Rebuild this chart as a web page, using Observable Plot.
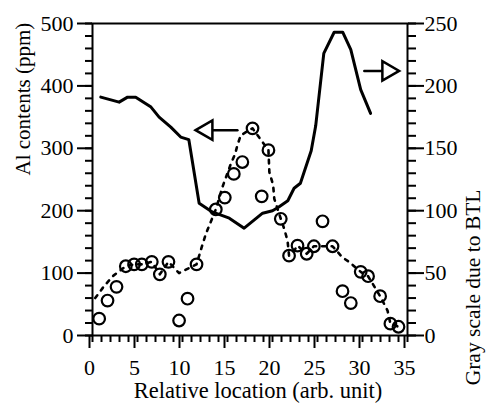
<!DOCTYPE html>
<html>
<head>
<meta charset="utf-8">
<script src="https://cdn.jsdelivr.net/npm/d3@7"></script>
<script src="https://cdn.jsdelivr.net/npm/@observablehq/plot@0.6"></script>
<style>
  html, body { margin: 0; padding: 0; background: #fff; }
</style>
</head>
<body>
<script>
// Al contents (ppm) — open circles
const circleX  = [0.74, 1.67, 2.67, 3.7, 4.62, 5.48, 6.59, 7.48, 8.44, 9.62, 10.56, 11.56, 13.7, 14.7, 15.7, 16.65, 17.78, 18.8, 19.55, 20.92, 21.84, 22.78, 23.8, 24.6, 25.56, 26.67, 27.78, 28.7, 29.8, 30.62, 31.96, 33.1, 34.0];
const circleAl = [27, 56, 78, 111, 114, 114, 118, 98, 118, 24, 59, 114, 202, 221, 259, 278, 332, 223, 297, 187, 128, 144, 131, 143, 183, 143, 71, 52, 102, 95, 63, 19, 14];

// Dotted trend line through Al contents (ppm)
const trendX  = [0.3, 1.33, 2.33, 3.7, 4.62, 5.48, 6.59, 7.48, 8.44, 9.62, 11.56, 12.1, 12.6, 13.7, 14.44, 15.37, 15.85, 16.1, 16.48, 17.78, 19.55, 19.65, 20.07, 20.2, 20.92, 21.3, 21.67, 21.84, 22.4, 22.78, 23.8, 24.6, 26.67, 27.78, 28.5, 29.8, 30.62, 31.96, 32.78, 33.1, 34.0];
const trendAl = [60, 80, 96, 111, 114, 114, 118, 98, 118, 100, 114, 140, 163, 202, 238, 275, 291, 305, 321, 332, 297, 262, 241, 219, 187, 171, 152, 128, 136, 144, 131, 143, 143, 125, 118, 102, 95, 63, 40, 19, 14];

// Gray scale due to BTL — solid line (right axis, 0–250)
const grayX = [0.92, 2.96, 3.9, 4.8, 6.5, 7.4, 8.7, 9.8, 10.7, 11.85, 13.3, 15.2, 16.85, 18.9, 20.0, 20.7, 21.7, 22.4, 23.1, 24.3, 24.8, 25.7, 26.85, 27.8, 28.7, 29.8, 30.9];
const grayV = [191, 187, 191, 191, 183, 175, 167, 159, 157, 106, 99, 94, 86, 98, 100, 103, 108, 118, 122, 148, 168, 226, 243, 243, 229, 197, 178];

// Axis ticks
const xMajor = [0, 5, 10, 15, 20, 25, 30, 35];
const xMinor = d3.range(0, 36, 1);
const yLeftMajor = [0, 100, 200, 300, 400, 500];
const yLeftMinor = d3.range(0, 501, 20);
const yRightMajor = [0, 50, 100, 150, 200, 250];
const yRightMinor = d3.range(0, 251, 10);

// Annotation arrows
const leftArrowShaftX = [13.3, 16.1];
const leftArrowHeadX = [12.7];
const leftArrowAl = 329;
const rightArrowShaftX = [30.2, 32.2];
const rightArrowHeadX = [32.83];
const rightArrowGray = 212;

const xLabel = "Relative location (arb. unit)";
const yLeftLabel = "Al contents (ppm)";
const yRightLabel = "Gray scale due to BTL";

// Build tables
const circles = circleX.map((x, i) => ({x, y: circleAl[i]}));
const trend = trendX.map((x, i) => ({x, y: trendAl[i]}));
const gray = grayX.map((x, i) => ({x, g: grayV[i]}));
const g2y = g => g * 2; // right axis (0–250) mapped onto left scale (0–500)

const font = "'Liberation Serif', 'Times New Roman', serif";

const chart = Plot.plot({
  width: 486,
  height: 405,
  marginLeft: 92,
  marginRight: 79,
  marginTop: 23,
  marginBottom: 70,
  x: {domain: [0, 35]},
  y: {domain: [0, 500]},
  style: {fontFamily: font, fontSize: "22px", color: "black", background: "white", overflow: "visible"},
  marks: [
    // minor ticks
    Plot.axisX({ticks: xMinor, tickSize: 7, tickFormat: () => "", strokeWidth: 2, label: null}),
    Plot.axisY({ticks: yLeftMinor, tickSize: 7, tickFormat: () => "", strokeWidth: 2, label: null}),
    Plot.axisY({anchor: "right", ticks: yRightMinor.map(g2y), tickSize: 8, tickFormat: () => "", strokeWidth: 2, label: null}),
    // major ticks + labels
    Plot.axisX({ticks: xMajor, tickSize: 13, tickPadding: 11, strokeWidth: 2, fontSize: 22, dx: -3, label: null}),
    Plot.axisY({ticks: yLeftMajor, tickSize: 15, tickPadding: 4, strokeWidth: 2, fontSize: 22, label: null}),
    Plot.axisY({anchor: "right", ticks: yRightMajor.map(g2y), tickFormat: d => d / 2, tickSize: 16, tickPadding: 1, strokeWidth: 2, fontSize: 22, label: null}),
    Plot.frame({stroke: "black", strokeWidth: 2}),
    // data
    Plot.line(trend, {x: "x", y: "y", stroke: "black", strokeWidth: 2.6, strokeDasharray: "3.5,6"}),
    Plot.line(gray, {x: "x", y: d => g2y(d.g), stroke: "black", strokeWidth: 3, strokeLinejoin: "round"}),
    Plot.dot(circles, {x: "x", y: "y", r: 5.8, stroke: "black", strokeWidth: 2.2, fill: "none"}),
    // arrows
    Plot.line(leftArrowShaftX, {x: d => d, y: () => leftArrowAl, stroke: "black", strokeWidth: 2.5}),
    Plot.dot(leftArrowHeadX, {x: d => d, y: () => leftArrowAl, symbol: "triangle", rotate: -90, r: 7.2, fill: "white", stroke: "black", strokeWidth: 2.5}),
    Plot.line(rightArrowShaftX, {x: d => d, y: () => g2y(rightArrowGray), stroke: "black", strokeWidth: 2.5}),
    Plot.dot(rightArrowHeadX, {x: d => d, y: () => g2y(rightArrowGray), symbol: "triangle", rotate: 90, r: 7.2, fill: "white", stroke: "black", strokeWidth: 2.5}),
    // axis titles
    Plot.text([xLabel], {frameAnchor: "bottom", text: d => d, dx: 8, dy: 55, fontSize: 22.5, lineAnchor: "middle", fill: "black"}),
    Plot.text([yLeftLabel], {frameAnchor: "left", text: d => d, rotate: -90, dx: -69, dy: -4, fontSize: 21, lineAnchor: "middle", fill: "black"}),
    Plot.text([yRightLabel], {frameAnchor: "right", text: d => d, rotate: -90, dx: 66, dy: 10, fontSize: 21.5, lineAnchor: "middle", fill: "black"})
  ]
});
document.body.appendChild(chart);
</script>
</body>
</html>
